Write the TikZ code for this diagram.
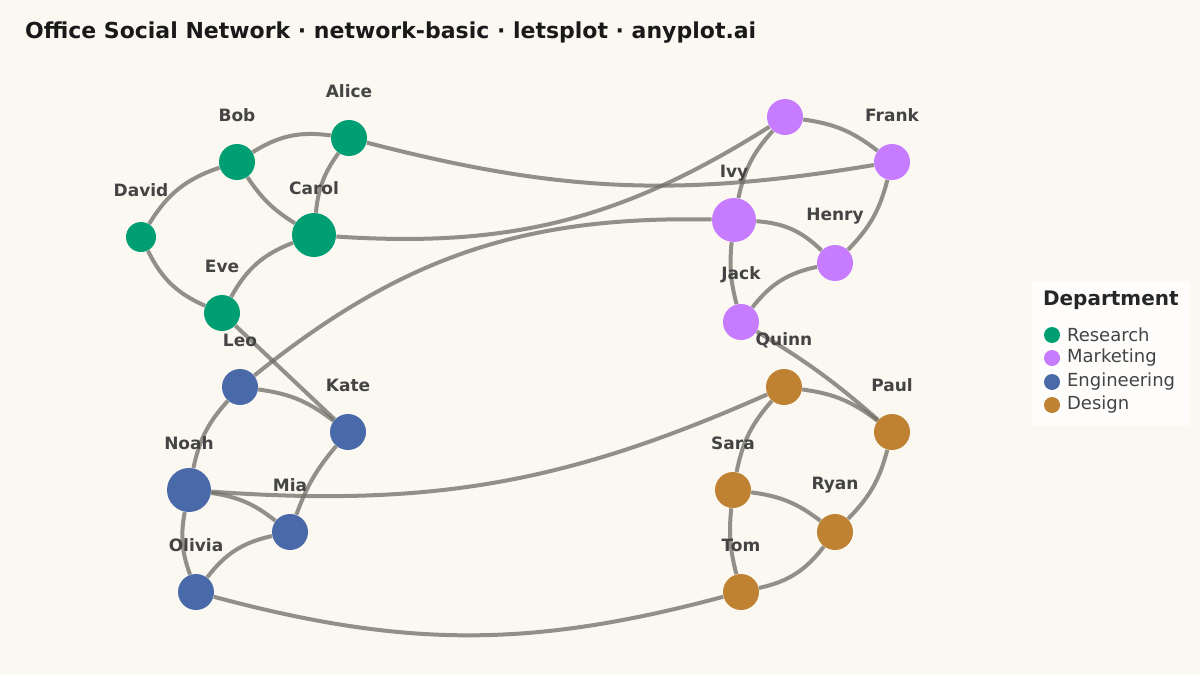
\documentclass[tikz,border=0pt]{standalone}
\usepackage{fontspec}
\setmainfont{DejaVu Sans}
\usetikzlibrary{backgrounds}
\definecolor{bg}{HTML}{FAF8F1}
\definecolor{research}{HTML}{009E73}
\definecolor{marketing}{HTML}{C77CFF}
\definecolor{engineering}{HTML}{4A69A8}
\definecolor{design}{HTML}{BF8232}
\definecolor{edgec}{HTML}{6E6D64}
\definecolor{labc}{HTML}{444444}
\tikzset{
  person/.style={circle, fill=#1, inner sep=0pt},
  tag/.style={font=\bfseries\fontsize{8.5}{10}\selectfont, text=labc},
  tie/.style={draw=edgec, draw opacity=0.75, line width=2pt},
}
\begin{document}
\begin{tikzpicture}[x=0.5pt,y=0.5pt]
\useasboundingbox (0,0) rectangle (1200,-675);
\node[anchor=west, font=\bfseries\fontsize{11}{13}\selectfont, text=black!90] (title) at (18,-33) {Office Social Network · network-basic · letsplot · anyplot.ai};

% people
\foreach \n/\x/\y/\r/\c in {Alice/349/138/18/research, Bob/237/162/18/research, David/141/237/15/research, Carol/314/235/22/research, Eve/222/313/18/research,
  Frank/892/162/18/marketing, Ivy/734/220/22/marketing, Henry/835/263/18/marketing, Jack/741/322/18/marketing,
  Leo/240/387/18/engineering, Kate/348/432/18/engineering, Noah/189/490/22/engineering, Mia/290/532/18/engineering, Olivia/196/592/18/engineering,
  Quinn/784/387/18/design, Paul/892/432/18/design, Sara/733/490/18/design, Ryan/835/532/18/design, Tom/741/592/18/design}
{
  \node[person=\c, minimum size=\r pt] (\n) at (\x,-\y) {};
  \node[tag] (\n-l) at (\x,-\y+47) {\n};
}
\node[person=marketing, minimum size=18pt] (Grace) at (785,-117) {};

% ties
\begin{scope}[on background layer]
\fill[bg] (0,0) rectangle (1200,-675);
\path[tie] (Bob) to[bend left=20] (Alice);
\path[tie] (Bob) to[bend right=20] (David);
\path[tie] (Bob) to[bend right=12] (Carol);
\path[tie] (Alice) to[bend right=15] (Carol);
\path[tie] (Alice) to[bend right=12] (Frank);
\path[tie] (David) to[bend right=20] (Eve);
\path[tie] (Eve) to[bend left=20] (Carol);
\path[tie] (Carol) to[bend right=18] (Grace);
\path[tie] (Eve) -- (Kate);
\path[tie] (Grace) to[bend left=15] (Frank);
\path[tie] (Grace) to[bend right=15] (Ivy);
\path[tie] (Ivy) to[bend left=20] (Henry);
\path[tie] (Frank) to[bend left=15] (Henry);
\path[tie] (Henry) to[bend right=20] (Jack);
\path[tie] (Ivy) to[bend right=10] (Jack);
\path[tie] (Ivy) to[bend right=20] (Leo);
\path[tie] (Jack) to[bend left=5] (Paul);
\path[tie] (Quinn) to[bend left=15] (Paul);
\path[tie] (Leo) to[bend left=15] (Kate);
\path[tie] (Leo) to[bend right=15] (Noah);
\path[tie] (Kate) to[bend right=10] (Mia);
\path[tie] (Noah) to[bend left=15] (Mia);
\path[tie] (Noah) to[bend right=15] (Olivia);
\path[tie] (Mia) to[bend right=20] (Olivia);
\path[tie] (Noah) to[bend right=14] (Quinn);
\path[tie] (Olivia) to[bend right=15] (Tom);
\path[tie] (Quinn) to[bend right=15] (Sara);
\path[tie] (Sara) to[bend left=15] (Ryan);
\path[tie] (Sara) to[bend right=10] (Tom);
\path[tie] (Tom) to[bend right=20] (Ryan);
\path[tie] (Paul) to[bend left=15] (Ryan);
\end{scope}

% legend
\node[fill=white, fill opacity=0.8, minimum width=79pt, minimum height=72pt, anchor=north west] (legend) at (1032,-281) {};
\node[anchor=west, font=\bfseries\fontsize{10}{12}\selectfont, text=black!85] (leg-t) at (1036,-300) {Department};
\foreach \t/\c/\y in {Research/research/335, Marketing/marketing/358, Engineering/engineering/382, Design/design/405}
{
  \node[person=\c, minimum size=8pt] (dot-\t) at (1052,-\y) {};
  \node[anchor=west, font=\fontsize{9}{11}\selectfont, text=labc] (leg-\t) at (1060,-\y) {\t};
}
\end{tikzpicture}
\end{document}
